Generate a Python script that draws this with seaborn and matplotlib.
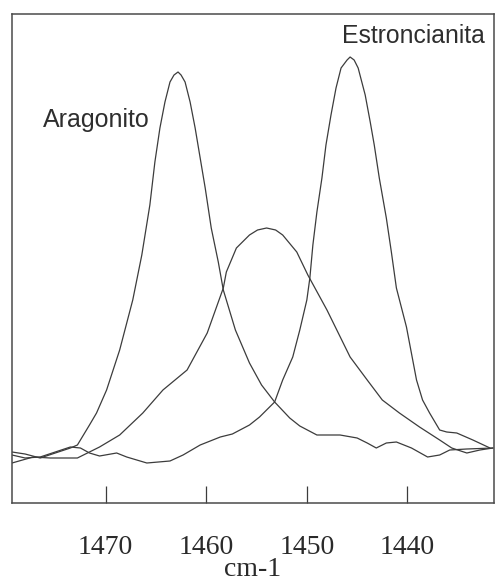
import matplotlib
matplotlib.use("Agg")
import matplotlib.pyplot as plt
import seaborn as sns
import pandas as pd

# Wavenumber (cm-1) and intensity (arbitrary units)
aragonito_x = [1479.3, 1478.0, 1476.5, 1475.0, 1473.5, 1472.8, 1471.6, 1470.9, 1469.9, 1468.6,
               1467.3, 1466.4, 1465.6, 1465.1, 1464.6, 1464.1, 1463.6, 1463.2, 1462.8, 1462.5,
               1462.1, 1461.6, 1461.1, 1460.6, 1460.1, 1459.5, 1458.8, 1458.3, 1457.1, 1455.7,
               1454.5, 1453.2, 1451.7, 1450.7, 1449.0, 1446.7, 1445.0, 1444.0, 1443.1, 1442.1,
               1441.1, 1439.6, 1438.0, 1436.8, 1435.8, 1434.1, 1431.5]
aragonito_y = [0.58, 0.56, 0.52, 0.57, 0.62, 0.65, 0.85, 0.97, 1.20, 1.60,
               2.10, 2.55, 3.05, 3.48, 3.82, 4.08, 4.28, 4.35, 4.38, 4.35,
               4.28, 4.08, 3.82, 3.52, 3.22, 2.82, 2.48, 2.20, 1.80, 1.47,
               1.25, 1.08, 0.92, 0.84, 0.75, 0.75, 0.72, 0.67, 0.62, 0.67,
               0.68, 0.62, 0.53, 0.55, 0.60, 0.61, 0.62]

mezcla_x = [1479.3, 1477.2, 1475.5, 1472.8, 1471.6, 1470.6, 1468.6, 1466.3, 1464.3, 1463.1,
            1461.9, 1459.9, 1458.3, 1458.0, 1457.0, 1455.7, 1454.9, 1454.0, 1453.1, 1452.4,
            1451.0, 1449.9, 1448.0, 1445.7, 1444.0, 1442.5, 1440.8, 1438.8, 1436.8, 1435.6,
            1434.1, 1432.8, 1431.5]
mezcla_y = [0.47, 0.53, 0.52, 0.52, 0.58, 0.63, 0.75, 0.97, 1.20, 1.30,
            1.40, 1.77, 2.22, 2.38, 2.62, 2.75, 2.80, 2.82, 2.80, 2.75,
            2.58, 2.35, 2.00, 1.53, 1.30, 1.10, 0.97, 0.83, 0.70, 0.62,
            0.57, 0.60, 0.62]

estroncianita_x = [1479.3, 1478.0, 1476.5, 1475.0, 1473.5, 1472.5, 1471.6, 1470.6, 1468.9, 1467.9,
                   1465.9, 1463.6, 1462.3, 1460.6, 1458.6, 1457.4, 1455.7, 1454.7, 1453.2, 1452.4,
                   1451.4, 1450.7, 1450.0, 1449.7, 1449.4, 1449.0, 1448.5, 1448.1, 1447.6, 1447.1,
                   1446.6, 1446.0, 1445.7, 1445.3, 1444.9, 1444.2, 1443.7, 1443.3, 1442.8, 1442.1,
                   1441.6, 1441.1, 1440.1, 1439.1, 1438.5, 1437.8, 1436.8, 1436.1, 1435.1, 1433.5,
                   1431.8]
estroncianita_y = [0.55, 0.52, 0.53, 0.58, 0.63, 0.62, 0.57, 0.54, 0.57, 0.53,
                   0.47, 0.49, 0.55, 0.65, 0.73, 0.76, 0.85, 0.93, 1.08, 1.30,
                   1.53, 1.80, 2.10, 2.32, 2.65, 2.98, 3.32, 3.65, 3.95, 4.22,
                   4.42, 4.50, 4.53, 4.50, 4.42, 4.15, 3.88, 3.65, 3.32, 2.92,
                   2.58, 2.22, 1.83, 1.30, 1.10, 0.97, 0.80, 0.78, 0.77, 0.70,
                   0.62]

tick_values = [1470, 1460, 1450, 1440]
tick_labels = ["1470", "1460", "1450", "1440"]
label_aragonito = "Aragonito"
label_estroncianita = "Estroncianita"
x_label = "cm-1"

sns.set_theme(style="white")
plt.rcParams["font.family"] = ["Liberation Serif", "DejaVu Serif"]

frames = []
for name, xs, ys in [("Aragonito", aragonito_x, aragonito_y),
                     ("Mezcla", mezcla_x, mezcla_y),
                     ("Estroncianita", estroncianita_x, estroncianita_y)]:
    frames.append(pd.DataFrame({"wavenumber": xs, "intensity": ys, "sample": name}))
df = pd.concat(frames, ignore_index=True)

fig = plt.figure(figsize=(4.97, 5.85), dpi=100)
ax = fig.add_axes([12 / 497, 1 - 503 / 585, (494 - 12) / 497, (503 - 14) / 585])

line_color = "#3c3c3c"
sns.lineplot(data=df, x="wavenumber", y="intensity", units="sample", estimator=None,
             sort=False, color=line_color, linewidth=0.9, ax=ax, legend=False)
for ln in ax.get_lines():
    ln.set_solid_joinstyle("round")

ax.set_xlim(1479.3, 1431.4)
ax.set_ylim(0.07, 4.96)
ax.set_xticks(tick_values)
ax.set_xticklabels(tick_labels)
ax.set_yticks([])
ax.tick_params(axis="x", direction="in", length=12, width=0.9, color=line_color,
               pad=23, labelsize=20, labelcolor="#2a2a2a", bottom=True)
ax.set_xlabel(x_label, fontsize=20, color="#2a2a2a", labelpad=-2)
ax.set_ylabel("")
for s in ax.spines.values():
    s.set_visible(True)
    s.set_color("#4a4a4a")
    s.set_linewidth(1.1)

sans = ["Liberation Sans", "DejaVu Sans"]
ax.text(1476.2, 3.83, label_aragonito, family=sans, fontsize=18, color="#2e2e2e",
        ha="left", va="baseline")
ax.text(1446.5, 4.67, label_estroncianita, family=sans, fontsize=17.8, color="#2e2e2e",
        ha="left", va="baseline")

fig.savefig("out.png", dpi=100, facecolor="white")
